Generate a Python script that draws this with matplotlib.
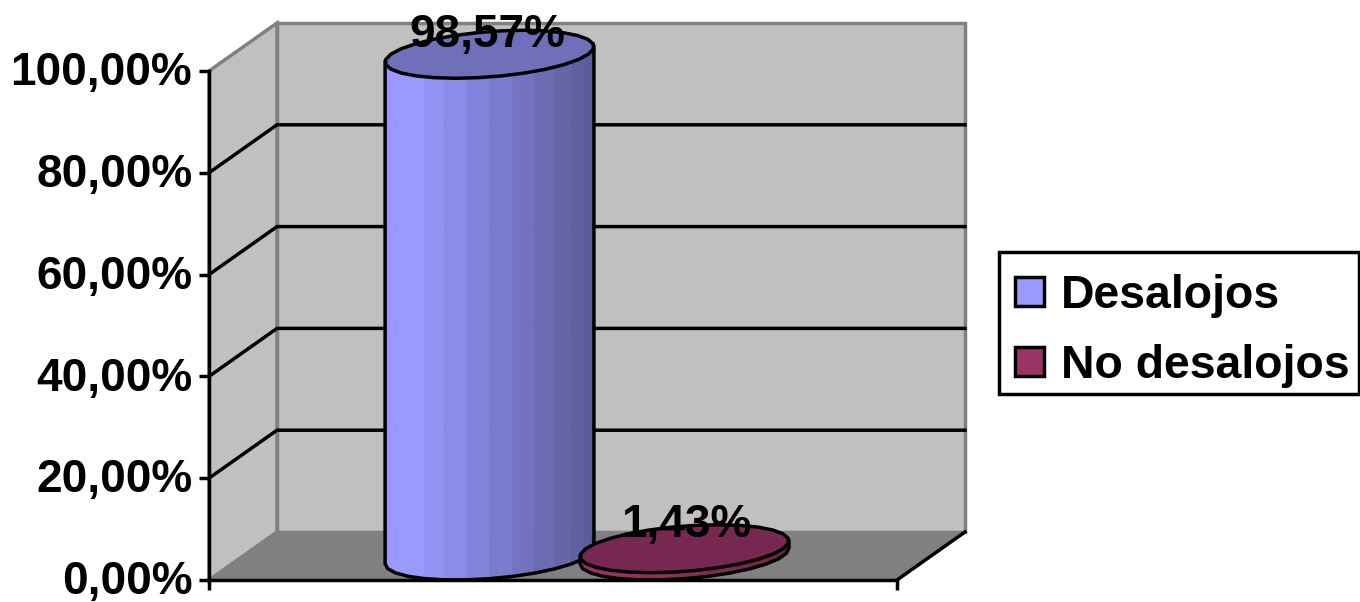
import numpy as np
import matplotlib
matplotlib.use("Agg")
import matplotlib.pyplot as plt
from matplotlib.patches import Polygon, Rectangle
from matplotlib.transforms import ScaledTranslation

plt.rcParams['font.family'] = ['Liberation Sans', 'DejaVu Sans']
plt.rcParams['font.weight'] = 'bold'

series_names = ['Desalojos', 'No desalojos']
series_values = [98.57, 1.43]
value_labels = ['98,57%', '1,43%']
y_ticks = [0, 20, 40, 60, 80, 100]
y_tick_labels = ['0,00%', '20,00%', '40,00%', '60,00%', '80,00%', '100,00%']

# colours: lit side, dark side, top face
side_light = ['#9999FF', '#993366']
side_dark = ['#5A5A96', '#6E2548']
top_colors = ['#7070BA', '#772850']

WALL = '#C0C0C0'
FLOOR = '#808080'
EDGE = '#808080'
LW = 2.5

W, H = 1360, 602
fig = plt.figure(figsize=(W / 100, H / 100), dpi=100, facecolor='white')
ax = fig.add_axes([209 / W, 1 - 580 / H, 688 / W, 509 / H])
ax.set_xlim(0, 1)
ax.set_ylim(0, 100)
ax.patch.set_visible(False)

# depth of the 3D box, in data units
dx = 68 / 688
dy = 48 / 509 * 100

# walls and floor
ax.add_patch(Polygon([(dx, dy), (1 + dx, dy), (1 + dx, 100 + dy), (dx, 100 + dy)],
                     fc=WALL, ec=EDGE, lw=2.5, clip_on=False, zorder=1))
ax.add_patch(Polygon([(0, 0), (dx, dy), (dx, 100 + dy), (0, 100)],
                     fc=WALL, ec=EDGE, lw=2.5, clip_on=False, zorder=1))
ax.add_patch(Polygon([(0, 0), (1, 0), (1 + dx, dy), (dx, dy)],
                     fc=FLOOR, ec=EDGE, lw=1.5, clip_on=False, zorder=1.1))
ax.plot([1, 1 + dx], [0, dy], color='black', lw=LW, clip_on=False, zorder=1.2)

# gridlines on the side and back walls
for v in y_ticks[1:-1]:
    ax.plot([0, dx, 1 + dx], [v, v + dy, v + dy], color='black', lw=LW,
            clip_on=False, zorder=1.2)


def ring(xc, yc, r, t):
    x = xc + r * np.cos(t) + dx / 2 * np.sin(t)
    y = yc + dy / 2 * np.sin(t)
    return x, y


def draw_cylinder(xc, value, light, dark, top, z):
    r = 0.1435
    base_y = dy / 2
    top_y = base_y + value
    xc = xc + dx / 2
    t0 = np.arctan2(dx / 2, r)
    front = np.linspace(np.pi + t0, 2 * np.pi + t0, 15)
    c1 = np.array(matplotlib.colors.to_rgb(light))
    c2 = np.array(matplotlib.colors.to_rgb(dark))

    xb, yb = ring(xc, base_y, r, front)
    xt, yt = ring(xc, top_y, r, front)
    yb = np.maximum(yb, 0)
    for i in range(len(front) - 1):
        f = ((xb[i] + xb[i + 1]) / 2 - xb[0]) / (xb[-1] - xb[0])
        f = max(0, (f - 0.15) / 0.85)
        col = c1 + (c2 - c1) * f
        ax.add_patch(Polygon([(xb[i], yb[i]), (xb[i + 1], yb[i + 1]),
                              (xt[i + 1], yt[i + 1]), (xt[i], yt[i])],
                             fc=col, ec=col, lw=0.5, clip_on=False, zorder=z))
    outline_x = np.r_[xt[0], xb, xt[-1]]
    outline_y = np.r_[yt[0], yb, yt[-1]]
    ax.plot(outline_x, outline_y, color='black', lw=LW, clip_on=False, zorder=z + 0.1)

    t = np.linspace(0, 2 * np.pi, 29)
    xs, ys = ring(xc, top_y, r, t)
    ax.add_patch(Polygon(np.c_[xs, ys], fc=top, ec='black', lw=LW,
                         clip_on=False, zorder=z + 0.2))


centres = [0.5 - 0.1417, 0.5 + 0.1417]
label_dx = [-0.003, 0.003]
label_dy = [-0.9, 0.0]
for i, v in enumerate(series_values):
    draw_cylinder(centres[i], v, side_light[i], side_dark[i], top_colors[i], 2 + i)
    ax.text(centres[i] + dx / 2 + label_dx[i], v + dy + label_dy[i], value_labels[i],
            ha='center', va='center', fontsize=33, fontweight='bold', color='black',
            zorder=6, clip_on=False)

# axes
for s in ['top', 'right']:
    ax.spines[s].set_visible(False)
for s in ['left', 'bottom']:
    ax.spines[s].set_linewidth(LW)
    ax.spines[s].set_zorder(5)
ax.set_yticks(y_ticks)
ax.set_yticklabels(y_tick_labels, fontsize=33, fontweight='bold')
ax.set_xticks([0, 1])
ax.set_xticklabels([])
ax.tick_params(axis='y', length=7, width=LW, pad=5)
ax.tick_params(axis='x', length=7, width=LW)

# lift the tick labels a little so the comma of 0,00% stays on the canvas
lift = ScaledTranslation(0, 2 / 72, fig.dpi_scale_trans)
for lab in ax.get_yticklabels():
    lab.set_transform(lab.get_transform() + lift)


# legend is placed by hand, row spacing of the built in one doesn't fit
def px_rect(x0, y0, x1, y1, **kw):
    fig.add_artist(Rectangle((x0 / W, 1 - y1 / H), (x1 - x0) / W, (y1 - y0) / H,
                             transform=fig.transFigure, **kw))


px_rect(999, 252, 1358.5, 394, fc='white', ec='black', lw=LW)
legend_rows = [(277, 306, 308), (347, 376, 378)]
for i, (y0, y1, base) in enumerate(legend_rows):
    px_rect(1015, y0, 1044, y1, fc=side_light[i], ec='black', lw=LW)
    fig.text(1061 / W, 1 - base / H, series_names[i], ha='left', va='baseline',
             fontsize=33.4, fontweight='bold', color='black')

fig.savefig('out.png', dpi=100)
